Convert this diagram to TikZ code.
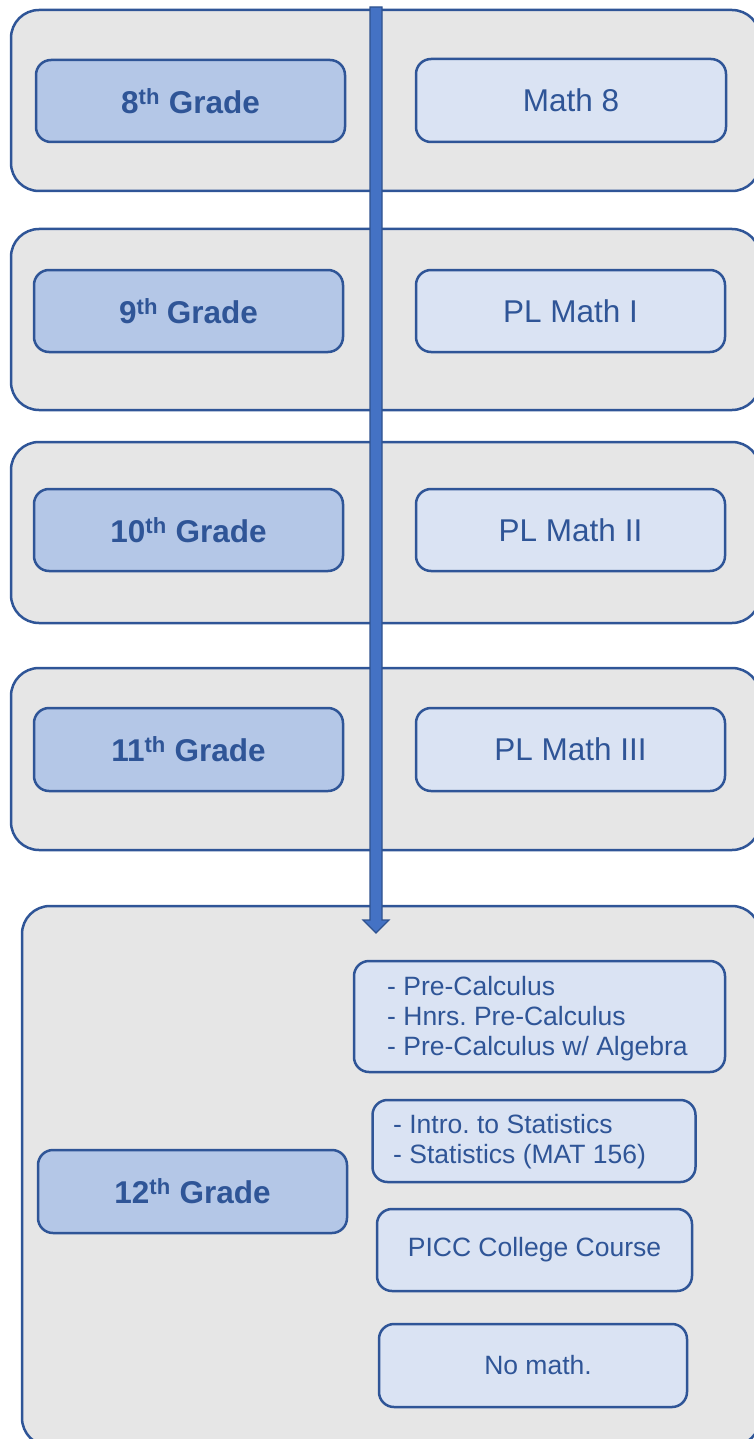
\documentclass[tikz,border=0pt]{standalone}
\usepackage{fontspec}
\setmainfont{Liberation Sans}
\usetikzlibrary{calc}
\frenchspacing
\definecolor{txtblue}{HTML}{2F5597}
\definecolor{outerfill}{HTML}{E6E6E6}
\definecolor{gradefill}{HTML}{B4C7E7}
\definecolor{coursefill}{HTML}{DAE3F3}
\definecolor{arrowfill}{HTML}{4472C4}
\definecolor{arrowline}{HTML}{2F528F}
\begin{document}
\begin{tikzpicture}[x=1pt,y=-1pt,
  outerbox/.style={draw=txtblue, fill=outerfill, line width=2.5pt, rounded corners=28pt, inner sep=0pt, outer sep=0pt},
  gradebox/.style={draw=txtblue, fill=gradefill, line width=2.5pt, rounded corners=15pt, inner sep=0pt, text=txtblue, font=\fontsize{31.5}{37}\selectfont\bfseries},
  coursebox/.style={draw=txtblue, fill=coursefill, line width=2.5pt, rounded corners=15pt, inner sep=0pt, text=txtblue, font=\fontsize{31.5}{37}\selectfont},
  smallcourse/.style={coursebox, font=\fontsize{26.5}{30}\selectfont},
  listtext/.style={text=txtblue, align=left, inner sep=0pt, anchor=west, font=\fontsize{26.5}{30}\selectfont\frenchspacing},
  arrowshape/.style={draw=arrowline, fill=arrowfill, line width=1.2pt, line join=miter},
]
\useasboundingbox (0,0) rectangle (754,1439);
\clip (0,0) rectangle (754,1439);
% outer panels
\node[outerbox, minimum width=749pt, minimum height=181pt] (o1) at (385.5,100.5) {};
\node[outerbox, minimum width=749pt, minimum height=181pt] (o2) at (385.5,319.5) {};
\node[outerbox, minimum width=749pt, minimum height=181pt] (o3) at (385.5,532.5) {};
\node[outerbox, minimum width=749pt, minimum height=182pt] (o4) at (385.5,759) {};
\node[outerbox, minimum width=738pt, minimum height=540pt] (o5) at (391,1176) {};
% grade boxes
\node[gradebox, minimum width=309pt, minimum height=82pt] (g8) at (190.5,101) {8\textsuperscript{th} Grade};
\node[gradebox, minimum width=309pt, minimum height=82pt] (g9) at (188.5,311) {9\textsuperscript{th} Grade};
\node[gradebox, minimum width=309pt, minimum height=82pt] (g10) at (188.5,530) {10\textsuperscript{th} Grade};
\node[gradebox, minimum width=309pt, minimum height=83pt] (g11) at (188.5,749.5) {11\textsuperscript{th} Grade};
\node[gradebox, minimum width=309pt, minimum height=83pt] (g12) at (192.5,1191.5) {12\textsuperscript{th} Grade};
% course boxes
\node[coursebox, minimum width=310pt, minimum height=83pt] (c8) at (571,100.5) {Math 8};
\node[coursebox, minimum width=309pt, minimum height=82pt] (c9) at (570.5,311) {PL Math I};
\node[coursebox, minimum width=309pt, minimum height=82pt] (c10) at (570.5,530) {PL Math II};
\node[coursebox, minimum width=309pt, minimum height=83pt] (c11) at (570.5,749.5) {PL Math III};
\node[smallcourse, minimum width=371pt, minimum height=111pt] (pre) at (539.5,1016.5) {};
\node[listtext] (pretext) at (387,1019) {- Pre-Calculus\\- Hnrs. Pre-Calculus\\- Pre-Calculus w/ Algebra};
\node[smallcourse, minimum width=323pt, minimum height=82pt] (stat) at (534,1141) {};
\node[listtext] (stattext) at (393,1142) {- Intro. to Statistics\\- Statistics (MAT 156)};
\node[smallcourse, minimum width=315pt, minimum height=82pt] (picc) at (534.5,1250) {PICC College Course};
\node[smallcourse, minimum width=308pt, minimum height=83pt] (nomath) at (533,1365.5) {\hspace*{10pt}No math.};
% arrow
\coordinate (atop) at (376,7);
\coordinate (atip) at (376,933);
\draw[arrowshape] ($(atop)+(-6,0)$) -- ($(atop)+(6,0)$) -- ($(atip)+(6,-13)$) -- ($(atip)+(13,-13)$) -- (atip) -- ($(atip)+(-13,-13)$) -- ($(atip)+(-6,-13)$) -- cycle;
\end{tikzpicture}
\end{document}
